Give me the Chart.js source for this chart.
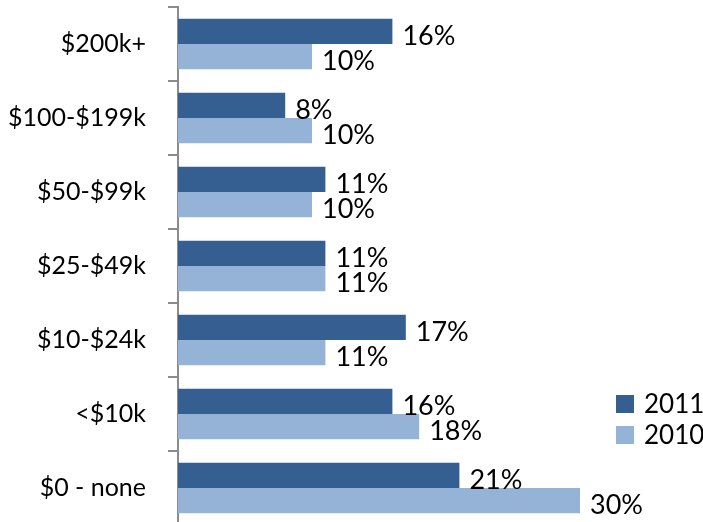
<!DOCTYPE html>
<html>
<head>
<meta charset="utf-8">
<script src="https://cdn.jsdelivr.net/npm/chart.js@4/dist/chart.umd.min.js"></script>
<style>
  html, body { margin: 0; padding: 0; background: #fff; overflow: hidden; }
  canvas { display: block; }
</style>
</head>
<body>
<canvas id="incomeChart" width="703" height="526"></canvas>
<script>
// income brackets, top to bottom
var brackets = ['$200k+', '$100-$199k', '$50-$99k', '$25-$49k', '$10-$24k', '<$10k', '$0 - none'];
var years = ['2011', '2010'];
var share2011 = [16, 8, 11, 11, 17, 16, 21];
var share2010 = [10, 10, 10, 11, 11, 18, 30];
var colors = ['#365F91', '#95B3D7'];

var FONT = 'Lato, "DejaVu Sans", sans-serif';

// percentage text just past the end of each bar
var barLabels = {
  id: 'barLabels',
  afterDatasetsDraw: function(chart) {
    var ctx = chart.ctx;
    ctx.save();
    ctx.font = '27px ' + FONT;
    ctx.fillStyle = '#000';
    ctx.textAlign = 'left';
    ctx.textBaseline = 'alphabetic';
    chart.data.datasets.forEach(function(ds, i) {
      chart.getDatasetMeta(i).data.forEach(function(bar, j) {
        ctx.fillText(ds.data[j] + '%', bar.x + 10, bar.y + bar.height / 2 + 1);
      });
    });
    ctx.restore();
  }
};

// small legend in the lower right corner
var sideLegend = {
  id: 'sideLegend',
  afterDraw: function(chart) {
    var ctx = chart.ctx;
    ctx.save();
    ctx.font = '26px ' + FONT;
    ctx.textBaseline = 'middle';
    years.forEach(function(y, i) {
      var cy = 404 + i * 31;
      ctx.fillStyle = colors[i];
      ctx.fillRect(616, cy - 9, 18, 18);
      ctx.fillStyle = '#000';
      ctx.fillText(y, 644, cy + 1);
    });
    ctx.restore();
  }
};

new Chart(document.getElementById('incomeChart'), {
  type: 'bar',
  data: {
    labels: brackets,
    datasets: [
      { label: years[0], data: share2011, backgroundColor: colors[0] },
      { label: years[1], data: share2010, backgroundColor: colors[1] }
    ]
  },
  options: {
    indexAxis: 'y',
    responsive: false,
    animation: false,
    devicePixelRatio: 1,
    categoryPercentage: 0.68,
    barPercentage: 1,
    layout: { padding: { top: 7, bottom: 1, right: 56, left: 0 } },
    plugins: {
      legend: { display: false },
      tooltip: { enabled: false }
    },
    scales: {
      x: {
        display: false,
        min: 0,
        max: 35
      },
      y: {
        afterFit: function(scale) {
          // fixed axis position; labels sit inside their bands anyway
          scale.width = 178;
          scale.paddingTop = 0;
          scale.paddingBottom = 0;
        },
        grid: {
          display: true,
          drawOnChartArea: false,
          drawTicks: true,
          tickLength: 10,
          color: '#8c8c8c',
          lineWidth: 2
        },
        border: { display: true, color: '#8c8c8c', width: 2 },
        ticks: {
          color: '#000',
          padding: 22,
          font: { family: FONT, size: 25 }
        }
      }
    }
  },
  plugins: [barLabels, sideLegend]
});
</script>
</body>
</html>
